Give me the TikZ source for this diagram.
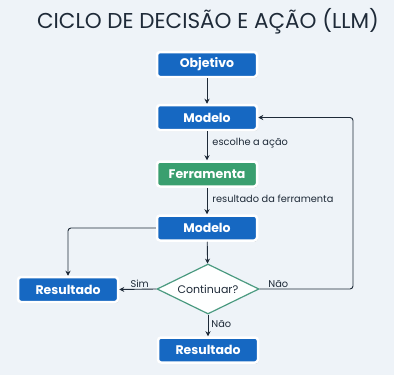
\documentclass[tikz,border=0pt]{standalone}
\usepackage{fontspec}
\setmainfont{Poppins}
\usetikzlibrary{shapes.geometric,arrows.meta,shadows}
\definecolor{bgc}{HTML}{EEF3F8}
\definecolor{boxblue}{HTML}{1668C2}
\definecolor{boxgreen}{HTML}{3A9F6F}
\definecolor{dgreen}{HTML}{4A9A80}
\definecolor{navy}{HTML}{1E2A38}
\tikzset{
  box/.style={rectangle, rounded corners=3pt, fill=#1, draw=white, line width=2.5pt,
    minimum width=100pt, minimum height=25pt, text=white, font=\fontsize{12.5}{14}\selectfont\bfseries,
    drop shadow={shadow xshift=0.8pt, shadow yshift=-1.2pt, opacity=0.18, fill=black}},
  box/.default=boxblue,
  dec/.style={diamond, aspect=2.05, draw=dgreen, line width=1.2pt, fill=white!97!bgc,
    minimum width=102pt, minimum height=50pt, inner sep=0pt, text=navy, font=\fontsize{11}{13}\selectfont},
  conn/.style={draw=navy, line width=0.9pt, rounded corners=3pt, -{Stealth[length=5pt,width=5pt]}},
  lbl/.style={text=navy, font=\fontsize{9.8}{11}\selectfont, inner sep=1pt}
}
\begin{document}
\begin{tikzpicture}[x=1pt,y=-1pt]
\fill[bgc] (0,0) rectangle (394,375);
\useasboundingbox (0,0) rectangle (394,375);
\node[text=navy, font=\fontsize{21.5}{24}\selectfont] (title) at (208,21) {CICLO DE DECISÃO E AÇÃO (LLM)};
\node[box] (obj) at (207,64.5) {Objetivo};
\node[box] (m1) at (207,117.5) {Modelo};
\node[box=boxgreen] (fer) at (207,174) {Ferramenta};
\node[box] (m2) at (207,228) {Modelo};
\node[dec] (dec) at (208,289) {Continuar?};
\node[box] (resl) at (68,289.5) {Resultado};
\node[box] (resb) at (208,350) {Resultado};
\coordinate (rc) at (353,289);
\coordinate (lc) at (68,228);
\draw[conn] (obj) -- (m1);
\draw[conn] (m1) -- node[lbl, right, pos=0.4, xshift=4pt] {escolhe a ação} (fer);
\draw[conn] (fer) -- node[lbl, right, pos=0.4, xshift=4pt] {resultado da ferramenta} (m2);
\draw[conn] (m2) -- (dec);
\draw[conn] (m2.west) -- (lc) -- (resl.north);
\draw[conn] (dec.west) -- node[lbl, above, pos=0.45] {Sim} (resl.east);
\draw[conn] (dec.east) -- node[lbl, above, pos=0.2] {Não} (rc) |- (m1.east);
\draw[conn] (dec.south) -- node[lbl, right, pos=0.45, xshift=2pt] {Não} (resb.north);
\end{tikzpicture}
\end{document}
